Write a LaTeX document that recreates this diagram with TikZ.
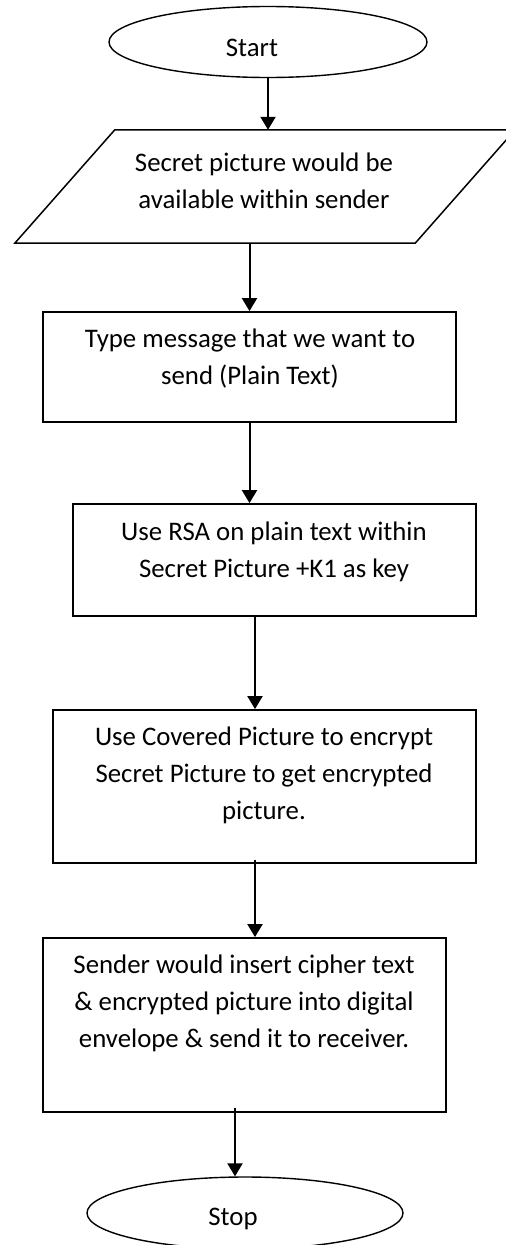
\documentclass[tikz,border=0pt]{standalone}
\usepackage{fontspec}
\setmainfont{Carlito}
\usetikzlibrary{shapes.geometric,arrows.meta}
\begin{document}
\begin{tikzpicture}[x=1pt, y=-1pt, >={Triangle[width=15pt,length=13pt]},
  txt/.style={align=center, inner sep=0pt, font=\fontsize{26.8}{37}\selectfont},
  terminal/.style={ellipse, draw, line width=1.4pt, inner sep=0pt},
  stepbox/.style={rectangle, draw, line width=1.8pt, inner sep=0pt},
  flow/.style={->, line width=2pt}]
  \useasboundingbox (0,0) rectangle (506,1245);
  % start / input
  \node[terminal, minimum width=318pt, minimum height=71pt] (start) at (268,42) {};
  \node[txt] (starttxt) at (252,48) {Start};
  \node[minimum width=400pt, minimum height=113pt, inner sep=0pt] (input) at (265,186.5) {};
  \draw[line width=1.5pt] ([xshift=50pt]input.north west) -- ([xshift=50pt]input.north east)
    -- ([xshift=-50pt]input.south east) -- ([xshift=-50pt]input.south west) -- cycle;
  \node[txt] (inputtxt) at (264,181) {Secret picture would be\\available within sender};
  % processing steps
  \node[stepbox, minimum width=413pt, minimum height=110pt] (type) at (249.5,367) {};
  \node[txt] (typetxt) at (250,359) {Type message that we want to\\send (Plain Text)};
  \node[stepbox, minimum width=403pt, minimum height=112pt] (rsa) at (274.5,560) {};
  \node[txt] (rsatxt) at (274,552) {Use RSA on plain text within\\Secret Picture +K1 as key};
  \node[stepbox, minimum width=423pt, minimum height=153pt] (cover) at (264.5,786.5) {};
  \node[txt] (covertxt) at (264,775.5) {Use Covered Picture to encrypt\\Secret Picture to get encrypted\\picture.};
  \node[stepbox, minimum width=403pt, minimum height=174pt] (envelope) at (244.5,1025) {};
  \node[txt] (envelopetxt) at (244,1003.5) {Sender would insert cipher text\\\& encrypted picture into digital\\envelope \& send it to receiver.};
  % stop
  \node[terminal, minimum width=316pt, minimum height=72pt] (stop) at (245,1213) {};
  \node[txt] (stoptxt) at (233,1219) {Stop};
  % arrows
  \draw[flow] (start) -- (start |- input.north);
  \draw[flow] (type.north |- input.south) -- (type.north);
  \draw[flow] (type) -- (type |- rsa.north);
  \draw[flow] ([xshift=-19.5pt]rsa.south) -- ([xshift=-19.5pt]rsa.south |- cover.north);
  \draw[flow] ([xshift=-9.5pt,yshift=4pt]cover.south) -- ([xshift=-9.5pt]cover.south |- envelope.north);
  \draw[flow] ([xshift=-9.5pt,yshift=5pt]envelope.south) -- ([xshift=-10pt]stop.north);
\end{tikzpicture}
\end{document}
